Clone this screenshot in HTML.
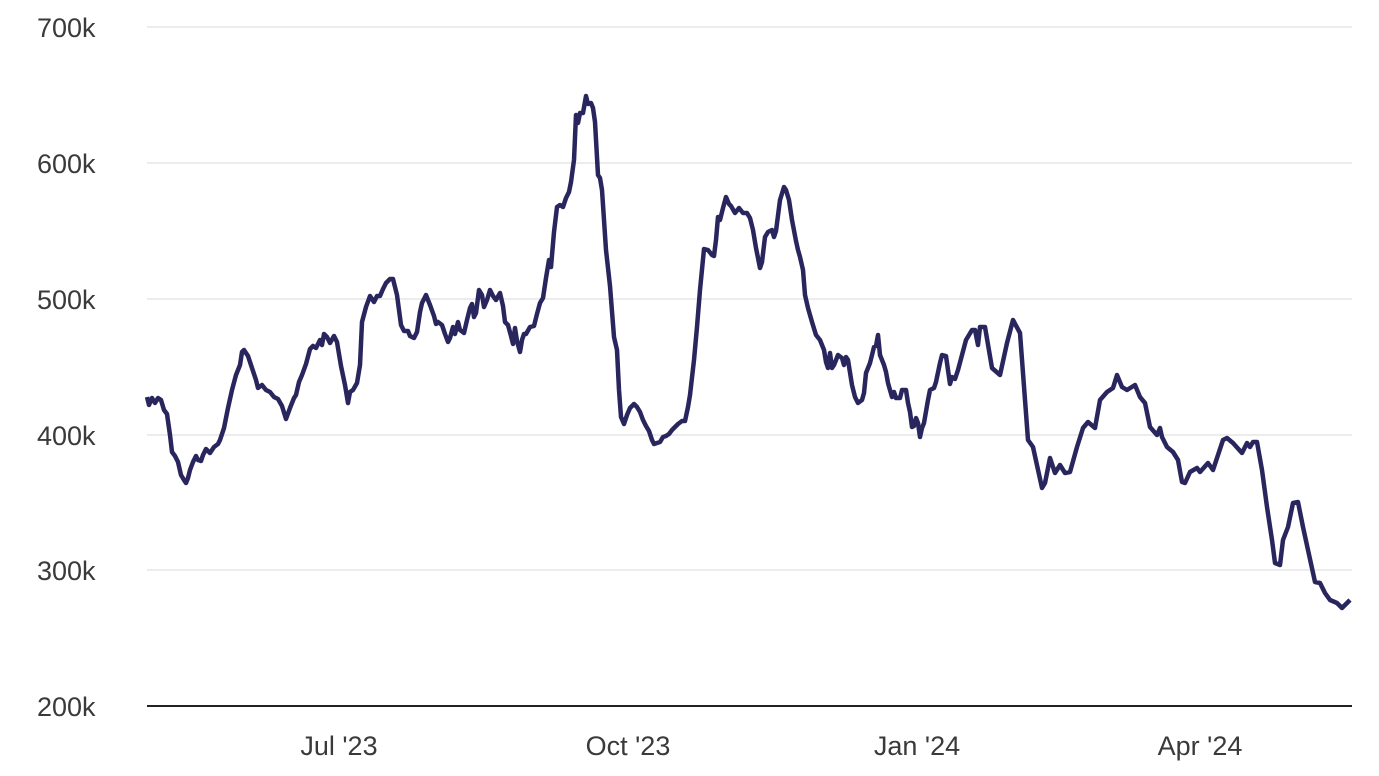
<!DOCTYPE html>
<html><head><meta charset="utf-8"><style>
html,body{margin:0;padding:0;background:#fff;}
svg{display:block;}
text{font-family:"Liberation Sans",sans-serif;font-size:27px;fill:#3a3a3a;}
</style></head><body>
<svg width="1379" height="776" viewBox="0 0 1379 776" xmlns="http://www.w3.org/2000/svg">
<g stroke="#e6e6e6" stroke-width="1.5">
<line x1="147" y1="27" x2="1352" y2="27"/>
<line x1="147" y1="163" x2="1352" y2="163"/>
<line x1="147" y1="299" x2="1352" y2="299"/>
<line x1="147" y1="435" x2="1352" y2="435"/>
<line x1="147" y1="570" x2="1352" y2="570"/>
</g>
<line x1="147" y1="706" x2="1352" y2="706" stroke="#222" stroke-width="2"/>
<text x="37" y="37">700k</text>
<text x="37" y="173">600k</text>
<text x="37" y="309">500k</text>
<text x="37" y="445">400k</text>
<text x="37" y="580">300k</text>
<text x="37" y="716">200k</text>
<text x="339" y="755" text-anchor="middle">Jul '23</text>
<text x="628" y="755" text-anchor="middle">Oct '23</text>
<text x="917" y="755" text-anchor="middle">Jan '24</text>
<text x="1200" y="755" text-anchor="middle">Apr '24</text>
<polyline fill="none" stroke="#29265e" stroke-width="4.5" stroke-linejoin="round" points="147,397 149,405 152,398 155,403 158,398 161,400 164,410 167,414 170,435 172,452 175,456 178,462 181,475 184,480 186,483 188,478 190,470 193,462 196,456 198,460 201,461 203,455 206,449 210,453 214,447 218,444 220,440 224,428 228,408 232,390 236,375 240,365 242,352 244,350 248,356 252,368 256,380 258,388 262,385 266,390 270,392 274,397 278,399 282,406 286,419 290,408 294,398 296,395 299,382 302,375 306,364 310,349 313,346 316,348 320,340 322,345 324,334 327,337 330,343 334,336 337,342 341,366 345,385 348,403 350,392 353,390 357,383 360,365 362,322 366,307 370,296 374,302 377,296 380,296 383,289 386,283 390,279 393,279 397,295 401,325 404,331 408,331 410,336 414,338 417,332 420,312 422,303 426,295 430,305 434,316 436,324 438,322 442,325 445,334 448,342 450,338 453,327 455,334 458,322 460,330 464,333 467,320 470,308 472,304 474,317 476,313 479,290 482,295 484,307 487,300 490,290 493,296 496,300 500,293 503,306 505,322 508,325 511,336 513,344 515,328 517,341 520,352 522,340 524,334 526,334 530,327 534,326 537,314 540,303 543,298 546,278 549,260 551,267 554,232 557,207 560,205 563,207 566,198 569,192 571,182 574,160 576,115 578,123 580,113 583,113 586,96 588,104 591,103 593,108 595,122 598,175 600,178 602,190 606,250 610,286 614,337 617,350 619,390 621,417 624,424 627,415 630,408 634,404 637,407 640,412 643,420 646,426 649,431 652,440 654,444 657,443 660,442 663,437 666,436 669,434 672,430 675,427 678,424 682,421 685,421 688,407 690,395 694,360 697,327 700,290 704,249 708,250 712,255 714,256 716,240 718,217 720,220 723,208 726,197 729,204 731,206 735,213 739,208 743,213 747,213 750,218 753,230 756,248 760,268 762,262 765,237 768,232 772,230 774,237 776,231 780,200 784,187 786,190 789,200 792,220 796,241 798,250 800,257 803,270 805,295 808,308 812,322 816,335 820,340 824,350 826,362 828,368 830,353 832,368 834,365 838,355 842,358 844,365 846,357 848,360 852,385 855,397 858,403 862,400 864,393 866,373 870,363 874,347 876,346 878,335 880,355 884,365 886,372 888,383 890,390 892,397 894,392 896,398 900,398 902,390 906,390 908,403 910,412 912,427 914,426 916,418 918,423 920,437 922,428 924,423 928,400 930,390 934,388 936,382 940,363 942,355 946,356 950,384 952,377 955,379 958,370 962,355 966,340 972,330 975,330 978,345 980,327 985,327 992,368 1000,375 1007,343 1013,320 1020,333 1028,440 1033,447 1042,488 1045,483 1050,458 1055,473 1060,465 1065,473 1070,472 1077,447 1083,428 1088,422 1095,428 1100,400 1107,392 1113,388 1117,375 1122,387 1127,390 1135,385 1140,397 1145,403 1150,427 1157,435 1160,428 1162,437 1167,447 1173,452 1178,460 1182,482 1185,483 1190,472 1197,468 1200,472 1208,463 1213,470 1218,455 1223,440 1227,438 1233,443 1242,453 1247,443 1250,447 1253,442 1257,442 1262,470 1267,507 1272,540 1275,563 1280,565 1283,540 1288,527 1293,503 1298,502 1303,527 1308,550 1315,582 1320,583 1325,593 1330,600 1337,603 1342,608 1347,603 1350,600"/>
</svg>
</body></html>
